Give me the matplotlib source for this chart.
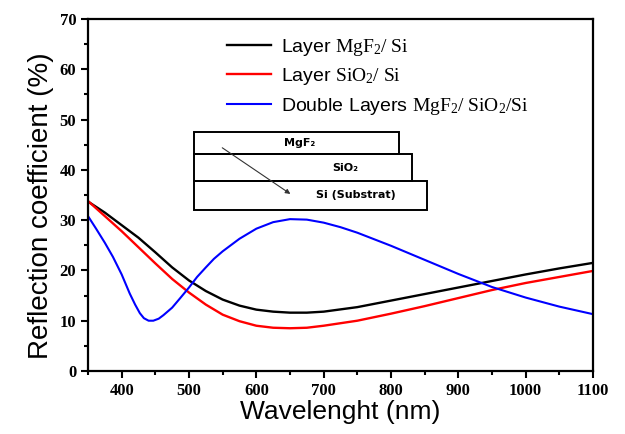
import matplotlib
matplotlib.use("Agg")
import matplotlib.pyplot as plt
from matplotlib.patches import Rectangle, FancyArrowPatch
from matplotlib.ticker import MultipleLocator

plt.rcParams['mathtext.fontset'] = 'custom'
plt.rcParams['mathtext.rm'] = 'Liberation Serif'
plt.rcParams['mathtext.it'] = 'Liberation Serif:italic'
plt.rcParams['mathtext.bf'] = 'Liberation Serif:bold'

# wavelength grids (nm) and reflection coefficient (%)
wl_mgf2 = [350, 375, 400, 425, 450, 475, 500, 525, 550, 575, 600, 625, 650, 675,
           700, 750, 800, 850, 900, 950, 1000, 1050, 1100]
r_mgf2 = [33.7, 31.5, 29.0, 26.5, 23.6, 20.6, 18.0, 15.9, 14.2, 13.0, 12.2, 11.8,
          11.6, 11.6, 11.8, 12.7, 14.0, 15.3, 16.6, 17.9, 19.2, 20.4, 21.5]

wl_sio2 = [350, 375, 400, 425, 450, 475, 500, 525, 550, 575, 600, 625, 650, 675,
           700, 750, 800, 850, 900, 950, 1000, 1050, 1100]
r_sio2 = [33.8, 30.8, 27.8, 24.6, 21.4, 18.3, 15.6, 13.2, 11.2, 9.9, 9.0, 8.6,
          8.5, 8.6, 9.0, 10.0, 11.4, 12.9, 14.5, 16.1, 17.5, 18.7, 19.9]

wl_double = [350, 362, 375, 387, 400, 412, 420, 427, 433, 440, 447, 455, 462, 475,
             487, 500, 512, 525, 537, 550, 575, 600, 625, 650, 675, 700, 725, 750,
             800, 850, 900, 950, 1000, 1050, 1100]
r_double = [30.8, 28.3, 25.5, 22.7, 19.2, 15.4, 13.2, 11.5, 10.5, 10.0, 10.0, 10.4,
            11.1, 12.6, 14.5, 16.6, 18.7, 20.6, 22.3, 23.8, 26.3, 28.3, 29.6, 30.2,
            30.1, 29.5, 28.6, 27.5, 24.9, 22.1, 19.3, 16.7, 14.6, 12.8, 11.3]

labels = [r'Layer $\mathrm{MgF_2/\ Si}$',
          r'Layer $\mathrm{SiO_2/\ Si}$',
          r'Double Layers $\mathrm{MgF_2/\ SiO_2/Si}$']
colors = ['black', 'red', 'blue']

fig = plt.figure(figsize=(6.25, 4.34), dpi=100)
ax = fig.add_axes([0.1408, 0.1452, 0.808, 0.811])

ax.plot(wl_mgf2, r_mgf2, color=colors[0], lw=1.7, label=labels[0])
ax.plot(wl_sio2, r_sio2, color=colors[1], lw=1.7, label=labels[1])
ax.plot(wl_double, r_double, color=colors[2], lw=1.5, label=labels[2])

ax.set_xlim(350, 1100)
ax.set_ylim(0, 70)
ax.xaxis.set_minor_locator(MultipleLocator(50))
ax.yaxis.set_major_locator(MultipleLocator(10))
ax.yaxis.set_minor_locator(MultipleLocator(5))
ax.set_xticks(range(400, 1101, 100))
ax.tick_params(which='both', direction='out', width=1.5, top=False, right=False)
ax.tick_params(which='major', length=5)
ax.tick_params(which='minor', length=3)
for lab in ax.get_xticklabels() + ax.get_yticklabels():
    lab.set_fontfamily('Liberation Serif')
    lab.set_fontweight('bold')
    lab.set_fontsize(12)
for sp in ax.spines.values():
    sp.set_linewidth(1.6)

ax.set_xlabel('Wavelenght (nm)', fontsize=19, family='Liberation Sans', labelpad=1)
ax.set_ylabel('Reflection coefficient (%)', fontsize=20, family='Liberation Sans',
              labelpad=4, y=0.47)

leg = ax.legend(loc='upper left', bbox_to_anchor=(0.24, 1.0), frameon=False,
                handlelength=2.3, handletextpad=0.5, labelspacing=0.45,
                prop={'family': 'Liberation Sans', 'size': 14})

# layer stack sketch
x0 = 507.4
boxes = [(812, 43.1, 47.6, 'MgF₂', 665, 45.3),
         (831, 37.8, 43.1, 'SiO₂', 732, 40.4),
         (853.5, 32.0, 37.8, 'Si (Substrat)', 748, 34.9)]
for x1, y0, y1, txt, tx, ty in boxes:
    ax.add_patch(Rectangle((x0, y0), x1 - x0, y1 - y0, fill=False, lw=1.4,
                           edgecolor='black', zorder=3))
    ax.text(tx, ty, txt, ha='center', va='center', fontsize=8,
            family='DejaVu Sans', fontweight='bold', zorder=4)
ax.add_patch(FancyArrowPatch((546, 44.7), (654, 34.9), arrowstyle='-|>',
                             mutation_scale=7, lw=0.8, color='#333333', zorder=4))

fig.savefig('out.png', dpi=100)
